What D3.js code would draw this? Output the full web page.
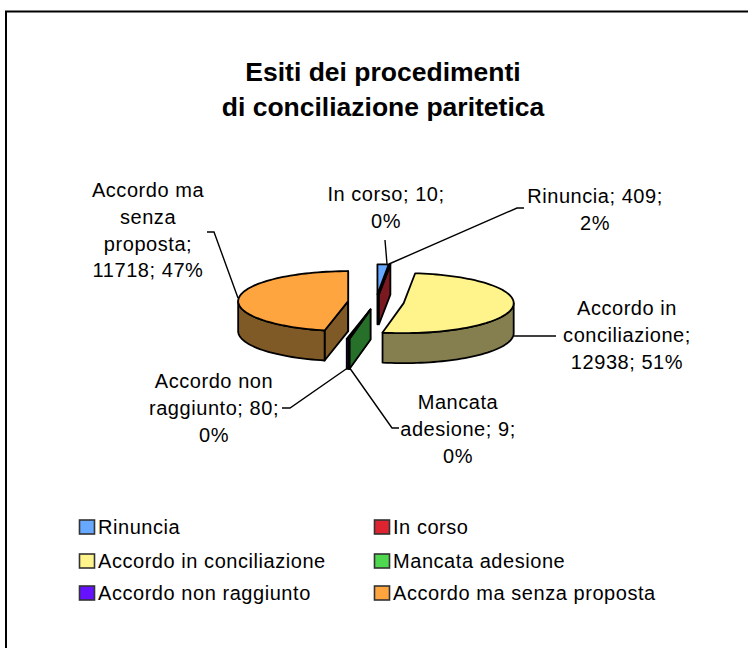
<!DOCTYPE html>
<html><head><meta charset="utf-8">
<script src="https://cdn.jsdelivr.net/npm/d3@7"></script>
<style>html,body{margin:0;padding:0;background:#fff}svg{display:block}text{font-family:"Liberation Sans",Arial,sans-serif;fill:#000}</style>
</head><body><svg id="c" width="748" height="648"></svg>
<script>
const categories=["Rinuncia","In corso","Accordo in conciliazione","Mancata adesione","Accordo non raggiunto","Accordo ma senza proposta"];
const values=[409,10,12938,9,80,11718];
const percents=["2%","0%","51%","0%","0%","47%"];
const topColors=["#66a9ff","#dd2430","#fff48c","#4fd84f","#6611ff","#ffa540"];
const sideColors=["#335480","#7a1a20","#857f50","#277029","#330880","#7f5a26"];
const titleLines=["Esiti dei procedimenti","di conciliazione paritetica"];

const svg=d3.select("#c");
svg.append("path").attr("d","M6,648V11.5H748").attr("fill","none").attr("stroke","#000").attr("stroke-width",2);
svg.selectAll(".t").data(titleLines).join("text").attr("x",383).attr("y",(d,i)=>81+i*35).attr("text-anchor","middle")
  .attr("font-size",26.5).attr("font-weight","bold").text(d=>d);

const cx=376,cy=302,rx=110,ry=30,depth=30,explode=28;
const X=d3.scaleLinear().domain([-1,1]).range([cx-rx,cx+rx]);
const Y=d3.scaleLinear().domain([-1,1]).range([cy-ry,cy+ry]);
const pie=d3.pie().sort(null).value(d=>d)(values);
const line=d3.line();
const drawOrder=[0,1,5,2,4,3];
const g=svg.append("g");
function P(s,a,r=1){ const m=(s.startAngle+s.endAngle)/2, ex=explode/rx;
  return [X(ex*Math.sin(m)+r*Math.sin(a)),Y(-ex*Math.cos(m)-r*Math.cos(a))]; }
function arcPts(s,a0,a1,r=1){ const n=Math.max(2,Math.ceil(Math.abs(a1-a0)/0.04)); return d3.range(n+1).map(i=>P(s,a0+(a1-a0)*i/n,r)); }
const down=p=>[p[0],p[1]+depth];
const stroke={stroke:"#000","stroke-width":1.8,"stroke-linejoin":"round"};
function poly(pts,fill){const e=g.append("path").attr("d",line(pts)+"Z").attr("fill",fill);for(const k in stroke)e.attr(k,stroke[k]);}
drawOrder.forEach(i=>{
  const s=pie[i],a0=s.startAngle,a1=s.endAngle,c=P(s,0,0);
  if(Math.cos(a0-Math.PI/2)<0){const r=P(s,a0);poly([c,r,down(r),down(c)],sideColors[i]);}
  if(Math.cos(a1+Math.PI/2)<0){const r=P(s,a1);poly([c,r,down(r),down(c)],sideColors[i]);}
  const b0=Math.max(a0,Math.PI/2),b1=Math.min(a1,3*Math.PI/2);
  if(b1>b0){const t=arcPts(s,b0,b1);poly(t.concat(t.map(down).reverse()),sideColors[i]);}
  poly([c].concat(arcPts(s,a0,a1)),topColors[i]);
});

const labelLines=[
 ["Rinuncia; "+values[0]+";",percents[0]],
 ["In corso; "+values[1]+";",percents[1]],
 ["Accordo in","conciliazione;",values[2]+"; "+percents[2]],
 ["Mancata","adesione; "+values[3]+";",percents[3]],
 ["Accordo non","raggiunto; "+values[4]+";",percents[4]],
 ["Accordo ma","senza","proposta;",values[5]+"; "+percents[5]]
];
const labelAnchors=[[595,203],[386,201],[627,315],[458,409],[214,388],[148,197]];
const leaderPaths=[[[524,208],[517,208],[389,264]],[[385,240],[387,264]],[[514,336],[556,336]],[[349,367],[392,428],[399,428]],[[349,367],[290,408],[282,408]],[[207,232],[214,232],[238,298]]];
const la=svg.append("g");
leaderPaths.forEach(p=>la.append("path").attr("d",line(p)).attr("fill","none").attr("stroke","#000").attr("stroke-width",1.4));
labelLines.forEach((ls,i)=>{
  la.selectAll(null).data(ls).join("text").attr("x",labelAnchors[i][0]).attr("y",(d,k)=>labelAnchors[i][1]+k*26.8)
   .attr("text-anchor","middle").attr("font-size",20).attr("letter-spacing",.55).text(d=>d);
});

const legendCols=[79,374],legendRows=[534,568,600];
const lg=svg.append("g");
categories.forEach((c,i)=>{
  const x=legendCols[i%2],y=legendRows[Math.floor(i/2)];
  lg.append("rect").attr("x",x+.5).attr("y",y-14).attr("width",15).attr("height",14).attr("fill",topColors[i]).attr("stroke","#333").attr("stroke-width",1.6);
  lg.append("text").attr("x",x+19).attr("y",y).attr("font-size",20).attr("letter-spacing",.55).text(c);
});
</script></body></html>
